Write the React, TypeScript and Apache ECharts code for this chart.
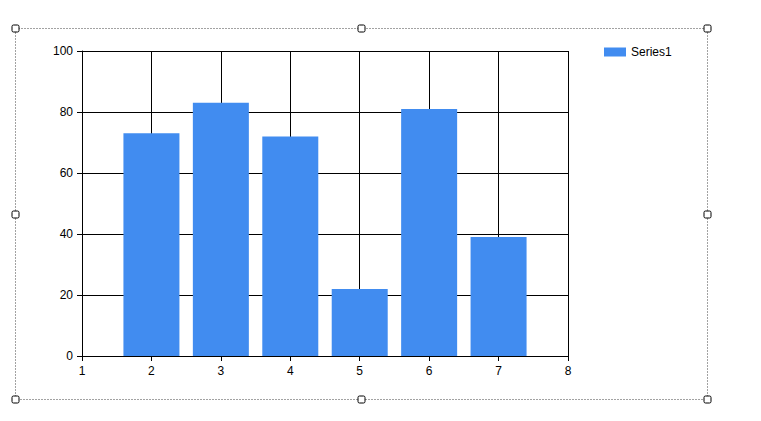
import React, { useEffect, useRef } from "react";
import * as echarts from "echarts";

const xValues = [2, 3, 4, 5, 6, 7];
const seriesValues = [73, 83, 72, 22, 81, 39];
const seriesName = "Series1";

export default function App() {
  const ref = useRef<HTMLDivElement>(null);
  useEffect(() => {
    if (!ref.current) return;
    const chart = echarts.init(ref.current, undefined, { renderer: "svg" });
    const handles = [
      [15, 28], [361, 28], [707, 28],
      [15, 214], [707, 214],
      [15, 399], [361, 399], [707, 399],
    ];
    chart.setOption({
      animation: false,
      backgroundColor: "#ffffff",
      textStyle: { fontFamily: "Liberation Sans, Arial, sans-serif" },
      legend: {
        show: true,
        left: 604,
        top: 46,
        padding: 0,
        itemWidth: 22,
        itemHeight: 9,
        itemGap: 5,
        icon: "rect",
        textStyle: { fontSize: 12, color: "#000", padding: [0, 0, 0, 0] },
        data: [seriesName],
      },
      grid: { left: 82, right: 193, top: 51, bottom: 65, show: false },
      xAxis: {
        type: "value",
        min: 1,
        max: 8,
        interval: 1,
        axisLine: { show: true, onZero: false, lineStyle: { color: "#000", width: 1 } },
        axisTick: { show: true, length: 5, lineStyle: { color: "#000" } },
        axisLabel: { color: "#000", fontSize: 12, margin: 9, showMinLabel: true, showMaxLabel: true },
        splitLine: { show: true, lineStyle: { color: "#000", width: 1 } },
      },
      yAxis: {
        type: "value",
        min: 0,
        max: 100,
        interval: 20,
        axisLine: { show: true, lineStyle: { color: "#000", width: 1 } },
        axisTick: { show: true, length: 5, lineStyle: { color: "#000" } },
        axisLabel: { color: "#000", fontSize: 12, margin: 9 },
        splitLine: { show: true, lineStyle: { color: "#000", width: 1 } },
      },
      series: [
        {
          name: seriesName,
          type: "bar",
          barWidth: 56,
          itemStyle: { color: "#418CF0" },
          data: xValues.map((x, i) => [x, seriesValues[i]]),
        },
      ],
      graphic: [
        {
          type: "rect",
          shape: { x: 15.5, y: 28.5, width: 692, height: 371 },
          style: { fill: "none", stroke: "#444444", lineWidth: 1, lineDash: [1, 2] },
          silent: true,
        },
        ...handles.map(([x, y]) => ({
          type: "rect",
          shape: { x: x - 3, y: y - 3, width: 7, height: 7, r: 1.5 },
          style: { fill: "#fff", stroke: "#000", lineWidth: 1 },
          silent: true,
          z: 10,
        })),
      ],
    });
    return () => chart.dispose();
  }, []);
  return (
    <div
      ref={ref}
      style={{ position: "fixed", left: 0, top: 0, width: 761, height: 421 }}
    />
  );
}
